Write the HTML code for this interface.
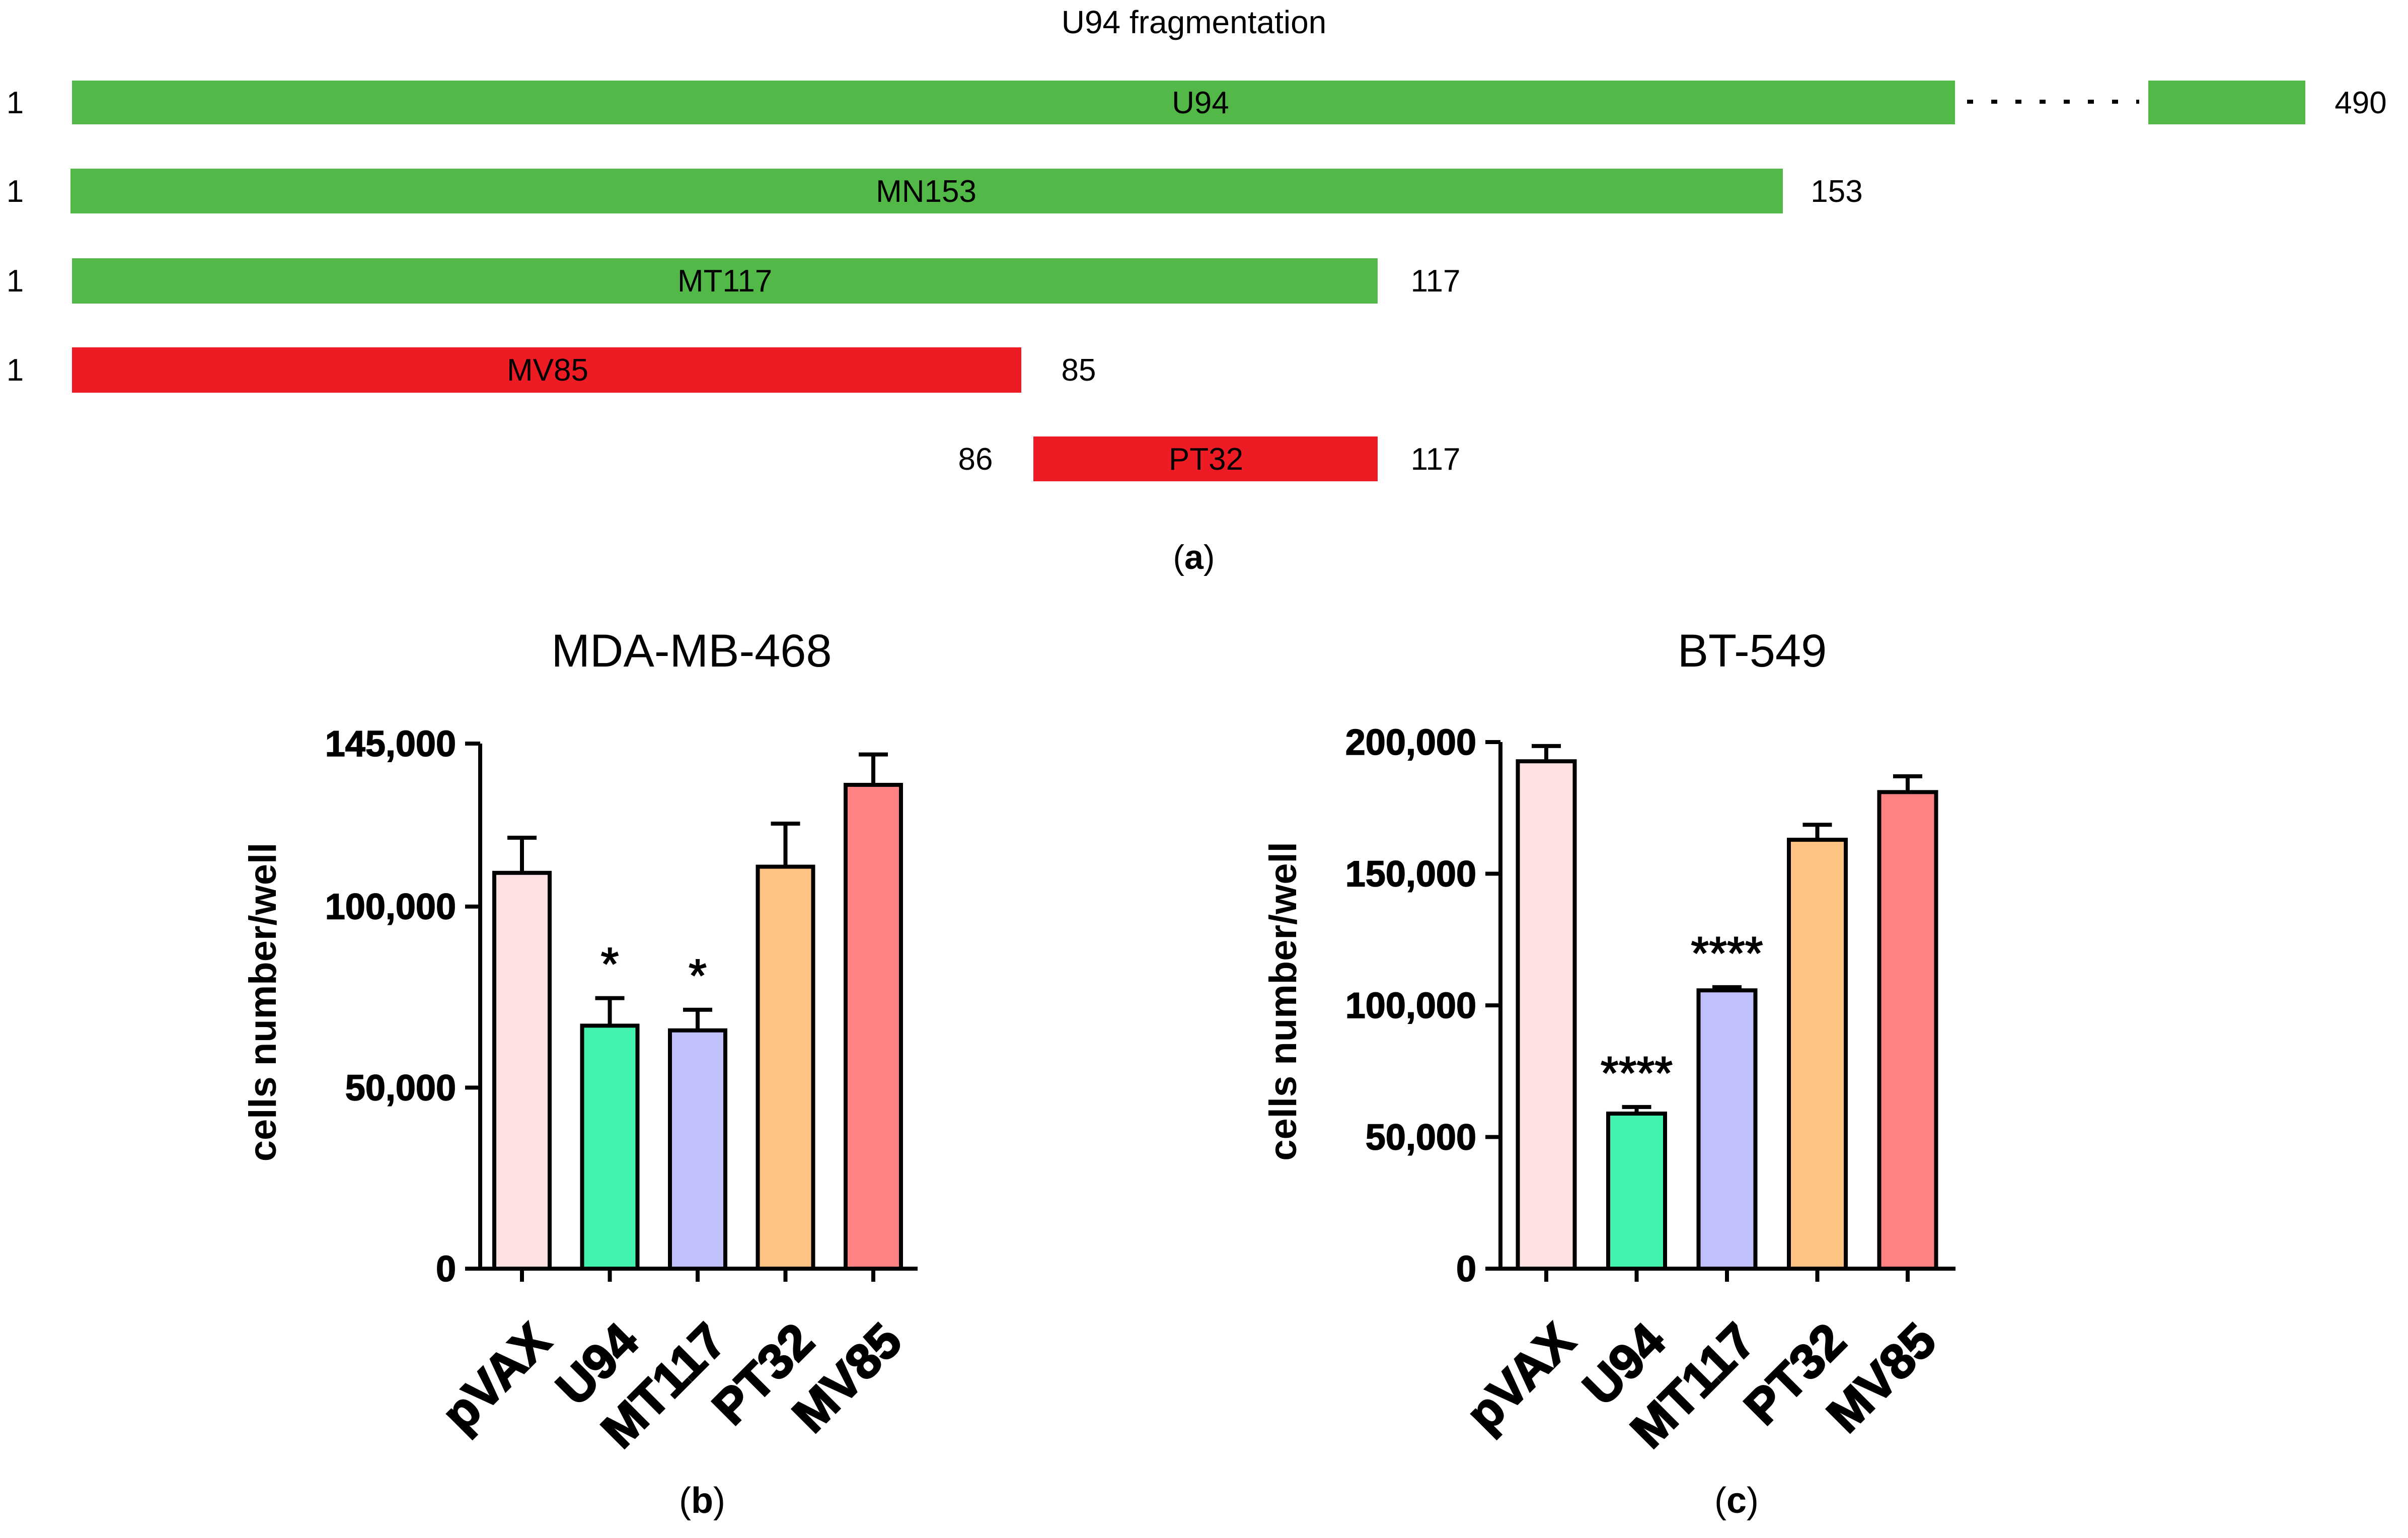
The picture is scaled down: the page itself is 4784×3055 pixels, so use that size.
<!DOCTYPE html>
<html>
<head>
<meta charset="utf-8">
<style>
html,body{margin:0;padding:0;background:#fff;}
svg{display:block;}
text{font-family:"Liberation Sans",Arial,sans-serif;fill:#000;}
</style>
</head>
<body>
<svg id="fig" width="4784" height="3055" viewBox="0 0 4784 3055" xmlns="http://www.w3.org/2000/svg">
  <g>
    <text x="2372" y="66" font-size="64" text-anchor="middle">U94 fragmentation</text>

    <rect x="143" y="160" width="3741" height="87" fill="#52b848"/>
    <line x1="3908" y1="202" x2="4250" y2="202" stroke="#000" stroke-width="8" stroke-dasharray="12,36"/>
    <rect x="4268" y="160" width="312" height="87" fill="#52b848"/>
    <text x="2385" y="225" font-size="62" text-anchor="middle">U94</text>
    <text x="30" y="225" font-size="62" text-anchor="middle">1</text>
    <text x="4690" y="225" font-size="62" text-anchor="middle">490</text>

    <rect x="140" y="335" width="3402" height="89" fill="#52b848"/>
    <text x="1840" y="401" font-size="62" text-anchor="middle">MN153</text>
    <text x="30" y="401" font-size="62" text-anchor="middle">1</text>
    <text x="3649" y="401" font-size="62" text-anchor="middle">153</text>

    <rect x="143" y="513" width="2594" height="90" fill="#52b848"/>
    <text x="1440" y="579" font-size="62" text-anchor="middle">MT117</text>
    <text x="30" y="579" font-size="62" text-anchor="middle">1</text>
    <text x="2852" y="579" font-size="62" text-anchor="middle">117</text>

    <rect x="143" y="690" width="1886" height="90" fill="#ed1c24"/>
    <text x="1088" y="756" font-size="62" text-anchor="middle">MV85</text>
    <text x="30" y="756" font-size="62" text-anchor="middle">1</text>
    <text x="2143" y="756" font-size="62" text-anchor="middle">85</text>

    <rect x="2053" y="867" width="684" height="89" fill="#ed1c24"/>
    <text x="2396" y="933" font-size="62" text-anchor="middle">PT32</text>
    <text x="1938" y="933" font-size="62" text-anchor="middle">86</text>
    <text x="2852" y="933" font-size="62" text-anchor="middle">117</text>

    <text x="2372" y="1130" font-size="68" text-anchor="middle">(<tspan font-weight="bold">a</tspan>)</text>
  </g>
  <g id="chartB"></g>
  <g id="chartC"></g>
</svg>
<script>
const categories = ["pVAX", "U94", "MT117", "PT32", "MV85"];
const colors = ["#fde0e2", "#43f2ac", "#c0c0fd", "#fec382", "#fe8282"];
const mdaValues = [109300, 67100, 65800, 111000, 133600];
const mdaErrors = [9700, 7600, 5700, 11900, 8400];
const mdaStars = ["", "*", "*", "", ""];
const mdaTicks = [0, 50000, 100000, 145000];
const btValues = [192700, 58900, 105700, 162900, 181000];
const btErrors = [5800, 2500, 1200, 5700, 6000];
const btStars = ["", "****", "****", "", ""];
const btTicks = [0, 50000, 100000, 150000, 200000];

const NS = "http://www.w3.org/2000/svg";
function mk(tag, attrs, parent) {
  const e = document.createElementNS(NS, tag);
  for (const k in attrs) e.setAttribute(k, attrs[k]);
  parent.appendChild(e);
  return e;
}
function fmt(v) { return v.toLocaleString("en-US"); }

function drawChart(g, cfg) {
  const yScale = v => cfg.y0 - (v / cfg.yMax) * (cfg.y0 - cfg.yTop);
  const xScale = i => cfg.x0 + i * cfg.step;
  const t = mk("text", {x: cfg.titleX, y: cfg.titleY, "font-size": 92, "text-anchor": "middle"}, g);
  t.textContent = cfg.title;
  
  
  const yl = mk("text", {x: 0, y: 0, "font-size": 76, "font-weight": "bold", "text-anchor": "middle",
    transform: `translate(${cfg.yLabelX},${(cfg.y0 + cfg.yTop) / 2 - 8}) rotate(-90)`}, g);
  yl.textContent = "cells number/well";
  
  
  cfg.values.forEach((v, i) => {
    const cx = xScale(i);
    const top = yScale(v);
    const r = mk("rect", {x: cx - cfg.bw / 2, y: top, width: cfg.bw, height: cfg.y0 - top,
      fill: colors[i], stroke: "#000", "stroke-width": 8}, g);
    
    
    const et = yScale(v + cfg.errors[i]);
    const eb = mk("path", {d: `M${cx},${top} V${et} M${cx - 29},${et} H${cx + 29}`, stroke: "#000", "stroke-width": 8, fill: "none"}, g);
    
    
    if (cfg.stars[i]) {
      const s = mk("text", {x: cx, y: et - 36, "font-size": 92, "text-anchor": "middle", stroke: "#000", "stroke-width": 2}, g);
      s.textContent = cfg.stars[i];
      
      
    }
    const tk = mk("line", {x1: cx, y1: cfg.y0, x2: cx, y2: cfg.y0 + 26, stroke: "#000", "stroke-width": 8}, g);
    
    
    const lb = mk("text", {x: 0, y: 0, "font-size": 98, "font-weight": "bold", "text-anchor": "end",
      stroke: "#000", "stroke-width": 3,
      transform: `translate(${cx + 62},${cfg.y0 + 150}) rotate(-45)`}, g);
    lb.textContent = categories[i];
    
    
  });
  const ax = mk("path", {d: `M${cfg.axisX},${cfg.yTop} V${cfg.y0} M${cfg.axisX - 30},${cfg.y0} H${cfg.xEnd}`, stroke: "#000", "stroke-width": 8, fill: "none"}, g);
  
  
  cfg.ticks.forEach(v => {
    const y = yScale(v);
    const tl = mk("line", {x1: cfg.axisX - 30, y1: y, x2: cfg.axisX, y2: y, stroke: "#000", "stroke-width": 8}, g);
    
    
    const tx = mk("text", {x: cfg.axisX - 48, y: y + 25, "font-size": 72, "font-weight": "bold", "text-anchor": "end", stroke: "#000", "stroke-width": 1.5}, g);
    tx.textContent = fmt(v);
    
    
  });
  const cap = mk("text", {x: cfg.capX, y: 3005, "font-size": 72, "text-anchor": "middle"}, g);
  cap.innerHTML = '(<tspan font-weight="bold">' + cfg.capLetter + '</tspan>)';
  
  
}

drawChart(document.getElementById("chartB"), {
  title: "MDA-MB-468", titleX: 1374, titleY: 1324,
  values: mdaValues, errors: mdaErrors, stars: mdaStars, ticks: mdaTicks,
  yMax: 145000, y0: 2520, yTop: 1477, axisX: 954, xEnd: 1823,
  x0: 1037, step: 174.5, bw: 110, yLabelX: 548, capX: 1395, capLetter: "b"
});
drawChart(document.getElementById("chartC"), {
  title: "BT-549", titleX: 3481, titleY: 1324,
  values: btValues, errors: btErrors, stars: btStars, ticks: btTicks,
  yMax: 200000, y0: 2520, yTop: 1474, axisX: 2981, xEnd: 3885,
  x0: 3072, step: 179.5, bw: 113, yLabelX: 2575, capX: 3450, capLetter: "c"
});
</script>
</body>
</html>
